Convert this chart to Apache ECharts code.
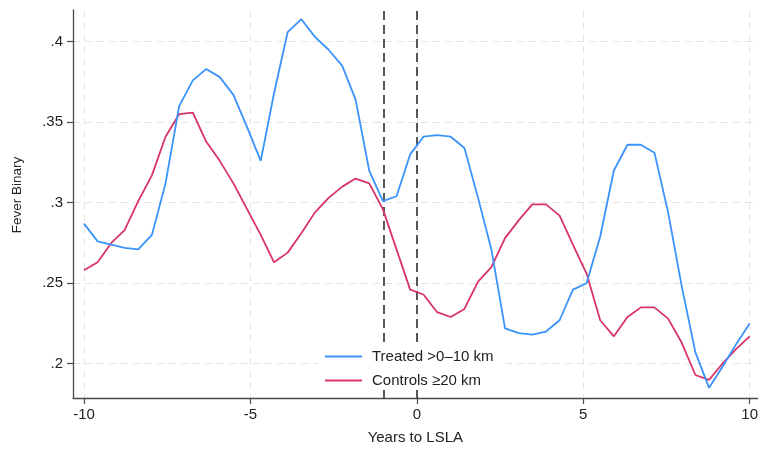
<!DOCTYPE html>
<html>
<head>
<meta charset="utf-8">
<script src="https://cdn.jsdelivr.net/npm/echarts@6/dist/echarts.min.js"></script>
<style>
  html, body { margin: 0; padding: 0; background: #fff; }
  #chart { width: 761px; height: 451px; }
</style>
</head>
<body>
<div id="chart"></div>
<script>
// Years relative to the LSLA, 50 evaluation points from -10 to 10
const years = [
  -10.00, -9.59, -9.18, -8.78, -8.37, -7.96, -7.55, -7.14, -6.73, -6.33,
  -5.92, -5.51, -5.10, -4.69, -4.29, -3.88, -3.47, -3.06, -2.65, -2.24,
  -1.84, -1.43, -1.02, -0.61, -0.20, 0.20, 0.61, 1.02, 1.43, 1.84,
  2.24, 2.65, 3.06, 3.47, 3.88, 4.29, 4.69, 5.10, 5.51, 5.92,
  6.33, 6.73, 7.14, 7.55, 7.96, 8.37, 8.78, 9.18, 9.59, 10.00
];

// Share reporting fever, treated clusters (>0–10 km)
const treated = [
  0.287, 0.276, 0.274, 0.272, 0.271, 0.280, 0.312, 0.360, 0.376, 0.383,
  0.378, 0.367, 0.347, 0.326, 0.368, 0.406, 0.414, 0.403, 0.395, 0.385,
  0.364, 0.320, 0.301, 0.304, 0.330, 0.341, 0.342, 0.341, 0.334, 0.303,
  0.271, 0.222, 0.219, 0.218, 0.220, 0.227, 0.246, 0.250, 0.279, 0.320,
  0.336, 0.336, 0.331, 0.294, 0.248, 0.207, 0.185, 0.198, 0.212, 0.225
];

// Share reporting fever, control clusters (≥20 km)
const controls = [
  0.258, 0.263, 0.275, 0.283, 0.301, 0.317, 0.341, 0.355, 0.356, 0.338,
  0.326, 0.312, 0.296, 0.280, 0.263, 0.269, 0.281, 0.294, 0.303, 0.310,
  0.315, 0.312, 0.296, 0.271, 0.246, 0.243, 0.232, 0.229, 0.234, 0.251,
  0.260, 0.278, 0.289, 0.299, 0.299, 0.292, 0.274, 0.256, 0.227, 0.217,
  0.229, 0.235, 0.235, 0.228, 0.213, 0.193, 0.190, 0.200, 0.209, 0.217
];

const xTicks = [-10, -5, 0, 5, 10];
const yTicks = [0.2, 0.25, 0.3, 0.35, 0.4];
const eventYears = [-1, 0];

const seriesNames = ['Treated >0\u201310 km', 'Controls \u226520 km'];
const seriesColors = ['#3a93fb', '#d8346a'];

const FONT = "'Liberation Sans', Arial, Helvetica, sans-serif";
const TEXT = '#222222';
const axisColor = '#4a4a4a';
const gridLine = { show: true, lineStyle: { color: '#e4e4e4', width: 1, type: [7, 5] } };

const pair = (xs, ys) => xs.map((x, i) => [x, ys[i]]);

const chart = echarts.init(document.getElementById('chart'), null, { renderer: 'canvas' });

chart.setOption({
  animation: false,
  backgroundColor: '#ffffff',
  textStyle: { fontFamily: FONT },
  grid: { left: 73, right: 1, top: 10, bottom: 53, containLabel: false },
  legend: {
    orient: 'vertical',
    left: 318,
    top: 343,
    z: 10,
    padding: [6, 12, 2, 7],
    itemGap: 9,
    itemWidth: 37,
    itemHeight: 2,
    icon: 'rect',
    backgroundColor: '#ffffff',
    textStyle: { fontFamily: FONT, fontSize: 15, color: TEXT, padding: [0, 0, 0, 5] },
    data: seriesNames
  },
  xAxis: {
    type: 'value',
    min: -10.33,
    max: 10.24,
    name: 'Years to LSLA',
    nameLocation: 'middle',
    nameGap: 32,
    nameTextStyle: { fontFamily: FONT, fontSize: 15, color: TEXT },
    axisLine: { show: true, onZero: false, lineStyle: { color: axisColor, width: 1.3 } },
    axisTick: { show: true, length: 6, customValues: xTicks, lineStyle: { color: axisColor, width: 1.2 } },
    axisLabel: { customValues: xTicks, margin: 9, fontFamily: FONT, fontSize: 15, color: TEXT },
    splitLine: gridLine
  },
  yAxis: {
    type: 'value',
    min: 0.1787,
    max: 0.4197,
    name: 'Fever Binary',
    nameLocation: 'middle',
    nameGap: 49,
    nameRotate: 90,
    nameTextStyle: { fontFamily: FONT, fontSize: 13.5, color: TEXT, padding: [0, 0, 0, 18] },
    axisLine: { show: true, onZero: false, lineStyle: { color: axisColor, width: 1.3 } },
    axisTick: { show: true, length: 6, customValues: yTicks, lineStyle: { color: axisColor, width: 1.2 } },
    axisLabel: {
      customValues: yTicks,
      margin: 10,
      fontFamily: FONT,
      fontSize: 15,
      color: TEXT,
      formatter: v => String(+v.toFixed(2)).replace(/^0\./, '.')
    },
    splitLine: gridLine
  },
  series: [
    {
      name: seriesNames[0],
      type: 'line',
      data: pair(years, treated),
      symbol: 'none',
      color: seriesColors[0],
      lineStyle: { color: seriesColors[0], width: 1.8 },
      z: 3
    },
    {
      name: seriesNames[1],
      type: 'line',
      data: pair(years, controls),
      symbol: 'none',
      color: seriesColors[1],
      lineStyle: { color: seriesColors[1], width: 1.8 },
      z: 2,
      markLine: {
        silent: true,
        z: 2,
        symbol: ['none', 'none'],
        label: { show: false },
        lineStyle: { color: '#222', width: 1.5, type: [9, 5] },
        data: eventYears.map(x => ({ xAxis: x }))
      }
    }
  ]
});
</script>
</body>
</html>
